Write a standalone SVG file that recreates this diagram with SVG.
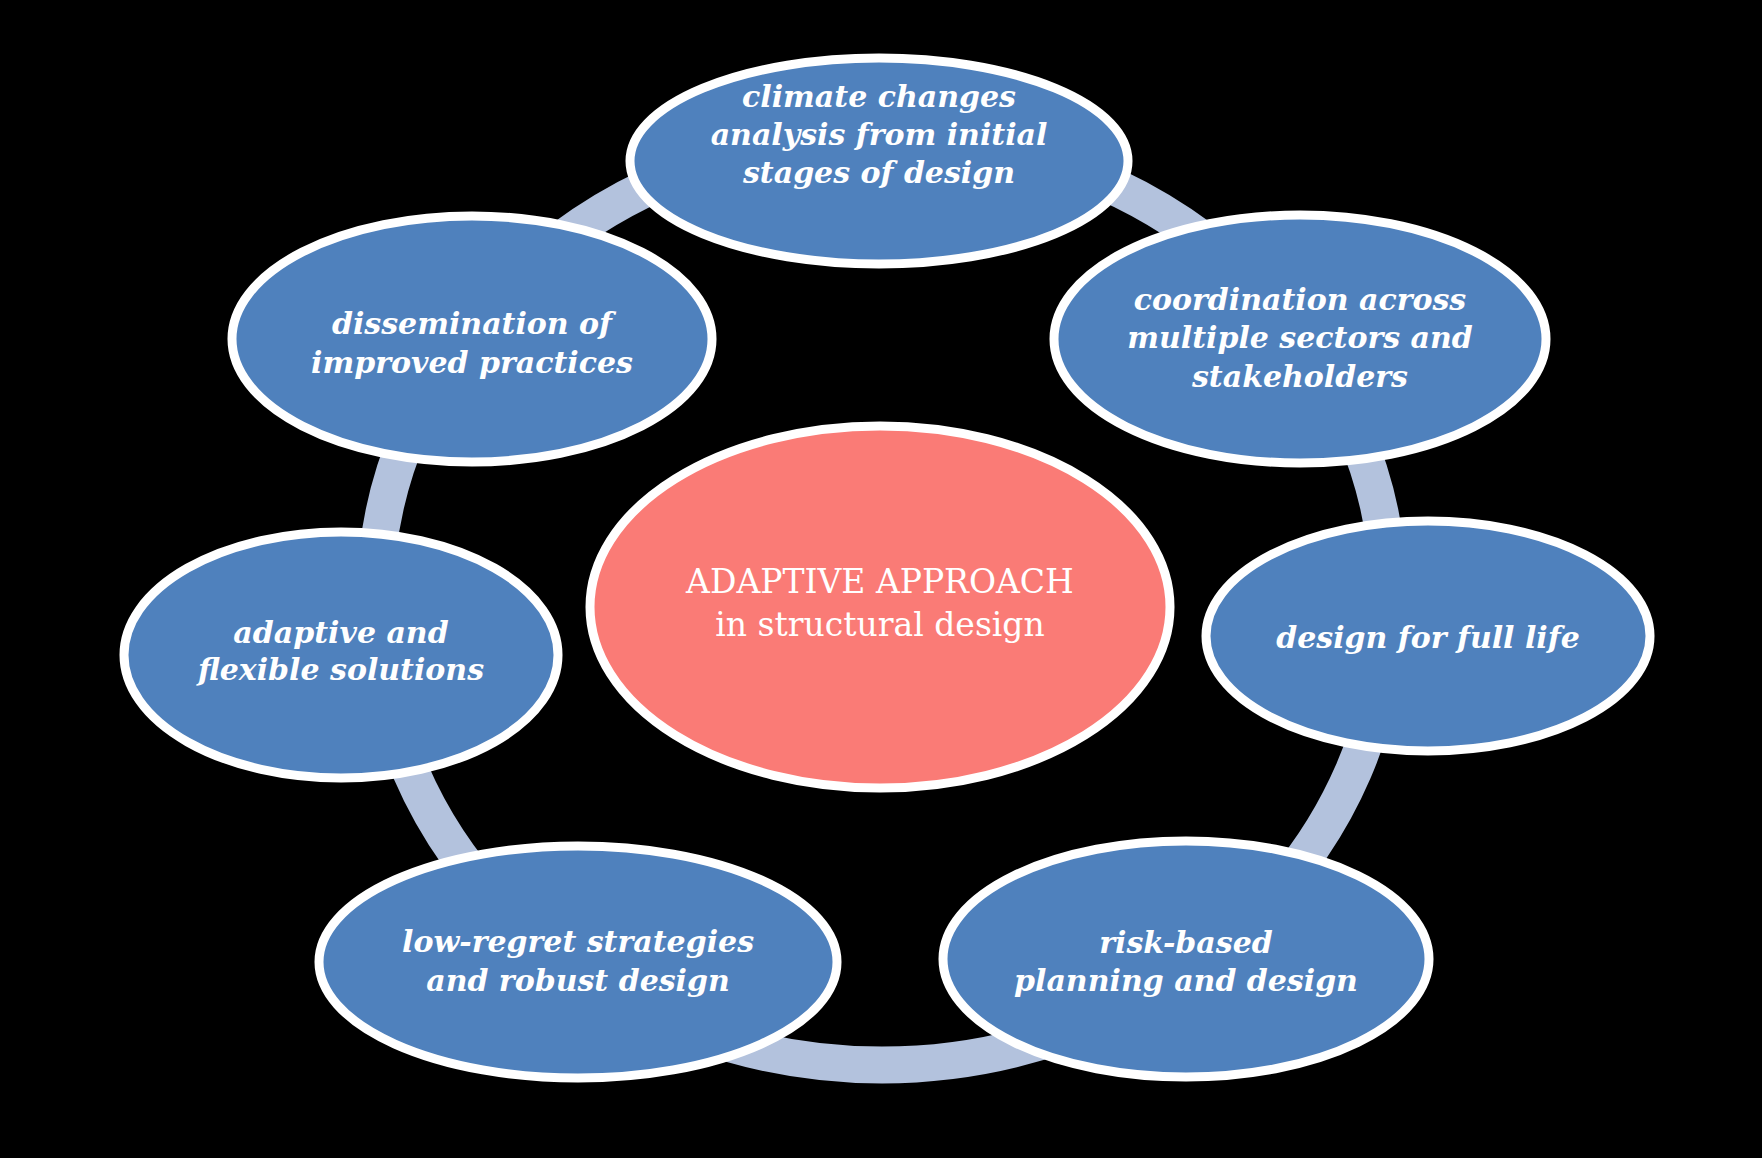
<svg xmlns="http://www.w3.org/2000/svg" width="1762" height="1158" viewBox="0 0 1762 1158">
<style>
.node{fill:#4f81bd;stroke:#ffffff;stroke-width:9}
.core{fill:#fa7b76;stroke:#ffffff;stroke-width:9}
.lbl{font-family:"DejaVu Serif","Liberation Serif",serif;font-weight:bold;font-style:italic;font-size:30px;fill:#ffffff;text-anchor:middle}
.clbl{font-family:"DejaVu Serif","Liberation Serif",serif;font-size:33px;fill:#ffffff;text-anchor:middle}
.ring{fill:none;stroke:#b3c2dd;stroke-width:37}
</style>
<rect x="0" y="0" width="1762" height="1158" fill="#000000"/>
<g id="connectors">
<ellipse class="ring" cx="882" cy="600" rx="507" ry="465"/>
</g>
<g id="node-core">
<ellipse class="core" cx="880" cy="607" rx="290" ry="181"/>
<text class="clbl" x="880" y="593">ADAPTIVE APPROACH</text>
<text class="clbl" x="880" y="636">in structural design</text>
</g>
<g id="node-climate">
<ellipse class="node" cx="879" cy="161" rx="249" ry="103"/>
<text class="lbl" x="879" y="107">climate changes</text>
<text class="lbl" x="879" y="145">analysis from initial</text>
<text class="lbl" x="879" y="183">stages of design</text>
</g>
<g id="node-coordination">
<ellipse class="node" cx="1300" cy="339" rx="246" ry="124"/>
<text class="lbl" x="1300" y="310">coordination across</text>
<text class="lbl" x="1300" y="348">multiple sectors and</text>
<text class="lbl" x="1300" y="387">stakeholders</text>
</g>
<g id="node-fulllife">
<ellipse class="node" cx="1428" cy="636" rx="222" ry="115"/>
<text class="lbl" x="1428" y="648">design for full life</text>
</g>
<g id="node-risk">
<ellipse class="node" cx="1186" cy="959" rx="243" ry="118"/>
<text class="lbl" x="1186" y="953">risk-based</text>
<text class="lbl" x="1186" y="991">planning and design</text>
</g>
<g id="node-lowregret">
<ellipse class="node" cx="578" cy="962" rx="259" ry="116"/>
<text class="lbl" x="578" y="952">low-regret strategies</text>
<text class="lbl" x="578" y="991">and robust design</text>
</g>
<g id="node-adaptive">
<ellipse class="node" cx="341" cy="655" rx="217" ry="123"/>
<text class="lbl" x="341" y="643">adaptive and</text>
<text class="lbl" x="341" y="680">flexible solutions</text>
</g>
<g id="node-dissemination">
<ellipse class="node" cx="472" cy="339" rx="240" ry="123"/>
<text class="lbl" x="472" y="334">dissemination of</text>
<text class="lbl" x="472" y="373">improved practices</text>
</g>
</svg>
